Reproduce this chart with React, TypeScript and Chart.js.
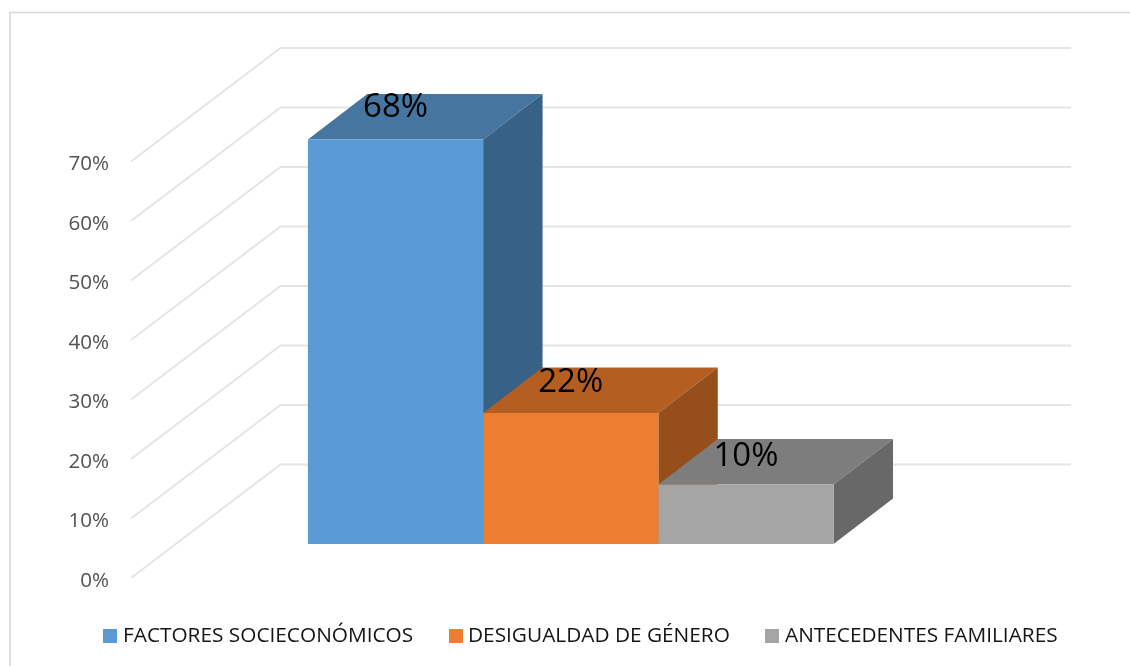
import React, { useEffect, useRef } from "react";
import { Chart, registerables } from "chart.js";

Chart.register(...registerables);

const categories = [""];
const seriesNames = ["FACTORES SOCIECONÓMICOS", "DESIGUALDAD DE GÉNERO", "ANTECEDENTES FAMILIARES"];
const factores = [68];
const desigualdad = [22];
const antecedentes = [10];
const frontColors = ["#5B9BD5", "#ED7D31", "#A5A5A5"];
const topColors = ["#4675A0", "#B45E22", "#7D7D7D"];
const sideColors = ["#376285", "#964E1B", "#686868"];
const legendBoxX = [103, 449, 765];
const legendTextX = [123, 468, 785];
const labelRise = [32, 30.5, 27.5];

const FONT = "'Open Sans', sans-serif";
const WALL = { dx: 149.5, dy: -113.5 };
const BAR_FRONT = { dx: 44.5, dy: -34 };
const BAR_DEPTH = { dx: 59.4, dy: -45.5 };
const WALL_RIGHT = 1071;

const poly = (ctx: CanvasRenderingContext2D, pts: number[][], fill: string) => {
  ctx.beginPath();
  pts.forEach((p, i) => (i ? ctx.lineTo(p[0], p[1]) : ctx.moveTo(p[0], p[1])));
  ctx.closePath();
  ctx.fillStyle = fill;
  ctx.fill();
};

const plot3d = {
  id: "plot3d",
  beforeDraw(chart: any) {
    const { ctx, width, height } = chart;
    ctx.save();
    ctx.fillStyle = "#fff";
    ctx.fillRect(0, 0, width, height);
    ctx.strokeStyle = "#d9d9d9";
    ctx.lineWidth = 1.6;
    ctx.beginPath();
    ctx.moveTo(10, height);
    ctx.lineTo(10, 12.5);
    ctx.lineTo(width, 12.5);
    ctx.stroke();
    ctx.restore();
  },
  beforeDatasetsDraw(chart: any) {
    const { ctx, chartArea, scales } = chart;
    ctx.save();
    ctx.strokeStyle = "#e4e4e4";
    ctx.lineWidth = 1.8;
    scales.y.ticks.forEach((t: any) => {
      const y = scales.y.getPixelForValue(t.value);
      ctx.beginPath();
      ctx.moveTo(chartArea.left, y);
      ctx.lineTo(chartArea.left + WALL.dx, y + WALL.dy);
      ctx.lineTo(WALL_RIGHT, y + WALL.dy);
      ctx.stroke();
    });
    chart.data.datasets.forEach((_: any, i: number) => {
      const bar = chart.getDatasetMeta(i).data[0];
      const l = bar.x - bar.width / 2 + BAR_FRONT.dx;
      const r = bar.x + bar.width / 2 + BAR_FRONT.dx;
      const t = bar.y + BAR_FRONT.dy;
      const b = bar.base + BAR_FRONT.dy;
      const { dx, dy } = BAR_DEPTH;
      poly(ctx, [[l, t], [r, t], [r + dx, t + dy], [l + dx, t + dy]], topColors[i]);
      poly(ctx, [[r, t], [r, b], [r + dx, b + dy], [r + dx, t + dy]], sideColors[i]);
    });
    ctx.translate(BAR_FRONT.dx, BAR_FRONT.dy);
  },
  afterDatasetsDraw(chart: any) {
    const { ctx } = chart;
    ctx.restore();
    ctx.save();
    ctx.fillStyle = "#000";
    ctx.textAlign = "center";
    ctx.textBaseline = "middle";
    ctx.font = `33px ${FONT}`;
    chart.data.datasets.forEach((ds: any, i: number) => {
      const bar = chart.getDatasetMeta(i).data[0];
      ctx.fillText(`${ds.data[0]}%`, bar.x + BAR_FRONT.dx, bar.y + BAR_FRONT.dy - labelRise[i]);
    });
    ctx.font = `20.8px ${FONT}`;
    ctx.textAlign = "left";
    chart.data.datasets.forEach((ds: any, i: number) => {
      ctx.fillStyle = frontColors[i];
      ctx.fillRect(legendBoxX[i], 629, 14, 14);
      ctx.fillStyle = "#141414";
      ctx.fillText(ds.label, legendTextX[i], 636.5);
    });
    ctx.restore();
  },
};

export default function App() {
  const ref = useRef<HTMLCanvasElement>(null);
  useEffect(() => {
    document.body.style.margin = "0";
    const chart = new Chart(ref.current!, {
      type: "bar",
      data: {
        labels: categories,
        datasets: [factores, desigualdad, antecedentes].map((data, i) => ({
          label: seriesNames[i],
          data,
          backgroundColor: frontColors[i],
          borderWidth: 0,
          categoryPercentage: 526 / 791,
          barPercentage: 1,
        })),
      },
      options: {
        responsive: false,
        animation: false,
        layout: { padding: { left: 0, top: 161.5, right: 208.5, bottom: 88 } },
        plugins: { legend: { display: false }, tooltip: { enabled: false } },
        scales: {
          x: { display: false },
          y: {
            min: 0,
            max: 70,
            afterFit: (s: any) => { s.width = 131; },
            border: { display: false },
            grid: { display: false },
            ticks: {
              stepSize: 10,
              padding: 14,
              labelOffset: 3,
              color: "#525252",
              font: { family: FONT, size: 20.6 },
              callback: (v: any) => `${v}%`,
            },
          },
        },
      },
      plugins: [plot3d],
    } as any);
    return () => chart.destroy();
  }, []);
  return (
    <div style={{ position: "absolute", left: 0, top: 0, width: 1130, height: 666 }}>
      <canvas ref={ref} width={1130} height={666} style={{ display: "block" }} />
    </div>
  );
}
